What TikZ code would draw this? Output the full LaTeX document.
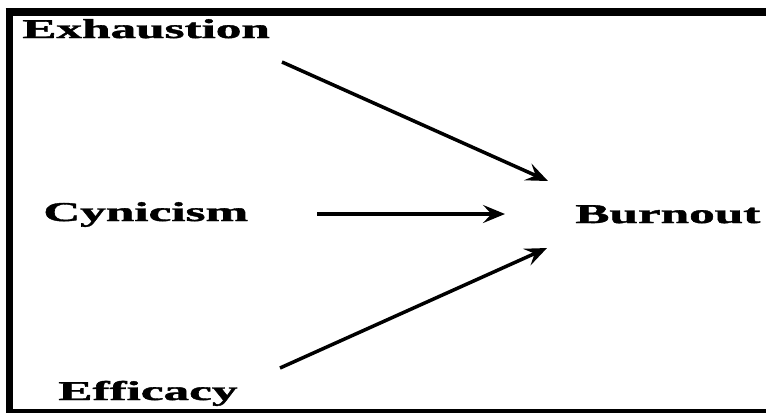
\documentclass[tikz,border=0pt]{standalone}
\usepackage{fontspec}
\setmainfont{Liberation Serif}[BoldFeatures={FakeBold=1.3}]
\usepackage{graphicx}
\usetikzlibrary{arrows.meta}
\newcommand{\widetext}[1]{\scalebox{1.88}[1]{#1}}

\begin{document}
\begin{tikzpicture}[x=0.02cm,y=-0.02cm,>={Stealth[length=4.4mm,width=3.6mm,inset=1.7mm]},
  every node/.style={inner sep=0pt,anchor=base west,font=\bfseries\fontsize{15.5}{18}\selectfont},
  link/.style={->,line width=2pt}]
\useasboundingbox (0,0) rectangle (766,414);
% frame
\draw[line width=0.155cm] (5.5,12) -- (766,12);
\draw[line width=0.145cm] (9.5,8) -- (9.5,413);
\draw[line width=0.07cm] (6,411) -- (766,411);
% dimensions
\node (exh) at (22,38) {\widetext{Exhaustion}};
\node (cyn) at (43,221) {\widetext{Cynicism}};
\node (eff) at (58,400) {\widetext{Efficacy}};
% outcome
\node (burn) at (575,223) {\widetext{Burnout}};
% arrow ends
\coordinate (exh-tail) at (282,62);
\coordinate (cyn-tail) at (317,214);
\coordinate (eff-tail) at (280,368);
\coordinate (burn-top) at (548,181);
\coordinate (burn-mid) at (505,214);
\coordinate (burn-low) at (547,248);
\draw[link] (exh-tail) -- (burn-top);
\draw[link] (cyn-tail) -- (burn-mid);
\draw[link] (eff-tail) -- (burn-low);
\end{tikzpicture}
\end{document}
